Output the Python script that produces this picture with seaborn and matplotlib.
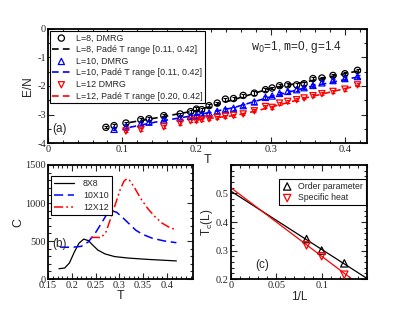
import numpy as np
import pandas as pd
import matplotlib
matplotlib.use("Agg")
import matplotlib.pyplot as plt
import seaborn as sns
from matplotlib.ticker import MultipleLocator, FixedLocator, FixedFormatter

sns.set_theme(style="ticks")
plt.rcParams['font.family'] = ['Liberation Sans', 'DejaVu Sans']

# ---------------- Panel (a) data ----------------
T8 = [0.078, 0.089, 0.105, 0.125, 0.136, 0.156, 0.178, 0.192, 0.200, 0.207, 0.217, 0.228,
      0.239, 0.250, 0.263, 0.278, 0.293, 0.302, 0.312, 0.323, 0.335, 0.345, 0.357, 0.369,
      0.384, 0.400, 0.417]
E8 = [-3.45, -3.39, -3.30, -3.18, -3.15, -3.04, -2.98, -2.90, -2.81, -2.83, -2.69, -2.60,
      -2.46, -2.44, -2.33, -2.25, -2.13, -2.07, -1.99, -1.96, -1.96, -1.92, -1.74, -1.72,
      -1.63, -1.57, -1.45]
E8_err = [0.04, 0.04, 0.05, 0.05, 0.05, 0.05, 0.05, 0.06, 0.08, 0.06, 0.06, 0.05,
          0.05, 0.05, 0.05, 0.08, 0.06, 0.05, 0.05, 0.05, 0.06, 0.06, 0.06, 0.05,
          0.06, 0.05, 0.05]

T10 = [0.089, 0.105, 0.125, 0.136, 0.156, 0.178, 0.192, 0.200, 0.207, 0.217, 0.228,
       0.239, 0.250, 0.263, 0.278, 0.293, 0.302, 0.312, 0.323, 0.335, 0.345, 0.357, 0.369,
       0.384, 0.400, 0.417]
E10 = [-3.52, -3.43, -3.33, -3.27, -3.19, -3.12, -3.07, -3.03, -2.98, -2.95, -2.89,
       -2.83, -2.78, -2.69, -2.56, -2.40, -2.35, -2.26, -2.19, -2.13, -2.06, -1.98, -1.89,
       -1.81, -1.74, -1.67]
E10_err = [0.04, 0.04, 0.05, 0.05, 0.05, 0.05, 0.05, 0.05, 0.05, 0.05, 0.05,
           0.05, 0.05, 0.05, 0.07, 0.06, 0.05, 0.05, 0.05, 0.05, 0.05, 0.05, 0.05,
           0.05, 0.05, 0.05]

T12 = [0.105, 0.125, 0.156, 0.178, 0.192, 0.200, 0.207, 0.217, 0.228,
       0.239, 0.250, 0.263, 0.278, 0.293, 0.302, 0.312, 0.323, 0.335, 0.345, 0.357, 0.369,
       0.384, 0.400, 0.417]
E12 = [-3.58, -3.52, -3.43, -3.30, -3.22, -3.21, -3.18, -3.15, -3.10,
       -3.06, -3.03, -2.98, -2.87, -2.72, -2.75, -2.60, -2.54, -2.48, -2.42, -2.34, -2.27,
       -2.19, -2.11, -1.96]
E12_err = [0.05, 0.05, 0.06, 0.06, 0.06, 0.05, 0.05, 0.05, 0.05,
           0.05, 0.05, 0.05, 0.05, 0.05, 0.05, 0.05, 0.05, 0.05, 0.05, 0.05, 0.05,
           0.05, 0.05, 0.05]

# Pade fit curves
Tfit8 = [0.11, 0.15, 0.20, 0.25, 0.30, 0.35, 0.42]
Efit8 = [-3.28, -3.10, -2.86, -2.48, -2.08, -1.84, -1.46]
Tfit10 = [0.11, 0.15, 0.20, 0.25, 0.30, 0.35, 0.42]
Efit10 = [-3.45, -3.24, -3.02, -2.76, -2.38, -2.04, -1.67]
Tfit12 = [0.20, 0.25, 0.28, 0.30, 0.35, 0.42]
Efit12 = [-3.19, -3.04, -2.88, -2.74, -2.40, -1.97]

# ---------------- Panel (b) data ----------------
Tb8 = [0.173, 0.185, 0.195, 0.205, 0.215, 0.225, 0.235, 0.245, 0.255, 0.27, 0.29, 0.32, 0.36, 0.39, 0.42]
C8 = [135, 145, 210, 350, 470, 525, 505, 440, 380, 330, 295, 275, 258, 248, 238]
Tb10 = [0.175, 0.19, 0.205, 0.22, 0.235, 0.25, 0.262, 0.272, 0.283, 0.294, 0.305, 0.32, 0.335, 0.35, 0.37, 0.395, 0.42]
C10 = [420, 418, 420, 430, 490, 610, 730, 835, 895, 880, 820, 730, 640, 585, 535, 500, 478]
Tb12 = [0.24, 0.25, 0.262, 0.272, 0.282, 0.292, 0.302, 0.31, 0.316, 0.322, 0.332, 0.345, 0.36, 0.375, 0.39, 0.405, 0.42]
C12 = [545, 548, 545, 620, 800, 990, 1180, 1290, 1320, 1295, 1200, 1060, 925, 820, 735, 680, 645]

# ---------------- Panel (c) data ----------------
invL = [1/12, 1/10, 1/8]
Tc_order = [0.340, 0.300, 0.255]
Tc_heat = [0.318, 0.280, 0.215]
fit_x = [0.0, 0.15]
fit_order = [0.508, 0.202]
fit_heat = [0.520, 0.160]

# tick labels
xticksA = ['0', '0.1', '0.2', '0.3', '0.4']
yticksA = ['0', '-1', '-2', '-3', '-4']
xticksB = ['0.15', '0.2', '0.25', '0.3', '0.35', '0.4']
yticksB = ['0', '500', '1000', '1500']
xticksC = ['0', '0.05', '0.1']
yticksC = ['0.2', '0.3', '0.4', '0.5']

serif = 'Liberation Serif'
tick_fs = 7.5

fig = plt.figure(figsize=(4.15, 3.21), dpi=100)
axA = fig.add_axes([0.1157, 0.5545, 0.769, 0.3552])
axB = fig.add_axes([0.1157, 0.1308, 0.3494, 0.3552])
axC = fig.add_axes([0.5566, 0.1308, 0.3277, 0.3552])


def set_ticks(ax, xlabels, ylabels, xminor, yminor):
    xv = [float(v) for v in xlabels]
    yv = [float(v) for v in ylabels]
    ax.xaxis.set_major_locator(FixedLocator(xv))
    ax.xaxis.set_major_formatter(FixedFormatter(xlabels))
    ax.yaxis.set_major_locator(FixedLocator(yv))
    ax.yaxis.set_major_formatter(FixedFormatter(ylabels))
    ax.xaxis.set_minor_locator(MultipleLocator(xminor))
    ax.yaxis.set_minor_locator(MultipleLocator(yminor))
    ax.tick_params(which='both', direction='in', top=True, right=True, labelsize=tick_fs,
                   pad=1.5, width=0.8, labelfontfamily=serif)
    ax.tick_params(which='major', length=4)
    ax.tick_params(which='minor', length=2)
    for s in ax.spines.values():
        s.set_linewidth(1.3)
        s.set_color('black')


# ---- Panel (a)
series = [
    (T8, E8, E8_err, Tfit8, Efit8, 'black', 'o', 'L=8, DMRG', 'L=8, Padé T range [0.11, 0.42]'),
    (T10, E10, E10_err, Tfit10, Efit10, 'blue', '^', 'L=10, DMRG', 'L=10, Padé T range [0.11, 0.42]'),
    (T12, E12, E12_err, Tfit12, Efit12, 'red', 'v', 'L=12 DMRG', 'L=12, Padé T range [0.20, 0.42]'),
]
for T, E, err, Tf, Ef, c, m, lab_d, lab_f in series:
    axA.errorbar(T, E, yerr=err, fmt='none', ecolor=c, elinewidth=0.8, capsize=1.5, capthick=0.8, zorder=2)
    sns.scatterplot(x=T, y=E, ax=axA, marker=m, s=20, facecolors='none', edgecolor=c,
                    linewidth=0.9, label=lab_d, zorder=3)
    sns.lineplot(x=Tf, y=Ef, ax=axA, color=c, linewidth=1.2, label=lab_f,
                 estimator=None, sort=False, zorder=2)
    axA.lines[-1].set_dashes((4, 2.5))

set_ticks(axA, xticksA, yticksA, 0.02, 0.5)
axA.set_xlim(0, 0.43)
axA.set_ylim(-4, 0)
axA.set_xlabel('T', fontsize=9, labelpad=0)
axA.set_ylabel('E/N', fontsize=8.5, labelpad=2)
handles, labels = axA.get_legend_handles_labels()
hl = []
for s in series:
    hl.append((handles[labels.index(s[7])], s[7]))
    hl.append((handles[labels.index(s[8])], s[8]))
leg = axA.legend([h for h, _ in hl], [l for _, l in hl], loc='upper left', fontsize=6.4,
                 frameon=True, fancybox=False, edgecolor='black', framealpha=1,
                 borderaxespad=0.2, handlelength=2.0, labelspacing=0.3, borderpad=0.3,
                 handletextpad=0.6)
leg.get_frame().set_linewidth(0.8)
axA.text(0.014, 0.12, '(a)', transform=axA.transAxes, fontsize=8.5, va='center')
axA.text(0.635, 0.84, r'$\mathtt{w}_{0}$=1, $\mathtt{m}$=0, g=1.4', transform=axA.transAxes,
         fontsize=8.5, va='center')

# ---- Panel (b)
sns.lineplot(x=Tb8, y=C8, ax=axB, color='black', linewidth=0.9, label='8X8', estimator=None, sort=False)
sns.lineplot(x=Tb10, y=C10, ax=axB, color='blue', linewidth=1.1, label='10X10', estimator=None, sort=False)
axB.lines[-1].set_dashes((6, 3))
sns.lineplot(x=Tb12, y=C12, ax=axB, color='red', linewidth=1.1, label='12X12', estimator=None, sort=False)
axB.lines[-1].set_dashes((6, 2, 1.2, 2, 1.2, 2))
set_ticks(axB, xticksB, yticksB, 0.01, 100)
axB.set_xlim(0.15, 0.455)
axB.set_ylim(0, 1500)
axB.set_xlabel('T', fontsize=9, labelpad=0)
axB.set_ylabel('C', fontsize=9, labelpad=1)
legB = axB.legend(loc='upper left', bbox_to_anchor=(0.02, 0.9), fontsize=6.3, frameon=True,
                  fancybox=False, edgecolor='black', framealpha=1, handlelength=2.3,
                  labelspacing=0.3, borderpad=0.35, handletextpad=1.0, borderaxespad=0)
legB.get_frame().set_linewidth(0.8)
axB.text(0.03, 0.305, '(b)', transform=axB.transAxes, fontsize=8.5, va='center')

# ---- Panel (c)
sns.lineplot(x=fit_x, y=fit_order, ax=axC, color='black', linewidth=0.9, estimator=None)
sns.lineplot(x=fit_x, y=fit_heat, ax=axC, color='red', linewidth=0.9, estimator=None)
sns.scatterplot(x=invL, y=Tc_order, ax=axC, marker='^', s=28, facecolors='none', edgecolor='black',
                linewidth=0.9, label='Order parameter', zorder=3)
sns.scatterplot(x=invL, y=Tc_heat, ax=axC, marker='v', s=28, facecolors='none', edgecolor='red',
                linewidth=0.9, label='Specific heat', zorder=3)
set_ticks(axC, xticksC, yticksC, 0.01, 0.02)
axC.set_xlim(0, 0.15)
axC.set_ylim(0.2, 0.6)
axC.set_xlabel('1/L', fontsize=8.5, labelpad=1)
axC.set_ylabel(r'T$_\mathregular{c}$(L)', fontsize=8.5, labelpad=1)
legC = axC.legend(loc='upper right', bbox_to_anchor=(0.99, 0.88), fontsize=6.3, frameon=True,
                  fancybox=False, edgecolor='black', framealpha=1, handlelength=1.2,
                  labelspacing=0.3, borderpad=0.35, handletextpad=0.6, borderaxespad=0)
legC.get_frame().set_linewidth(0.8)
axC.text(0.18, 0.12, '(c)', transform=axC.transAxes, fontsize=8.5, va='center')

fig.savefig('out.png', dpi=100)
